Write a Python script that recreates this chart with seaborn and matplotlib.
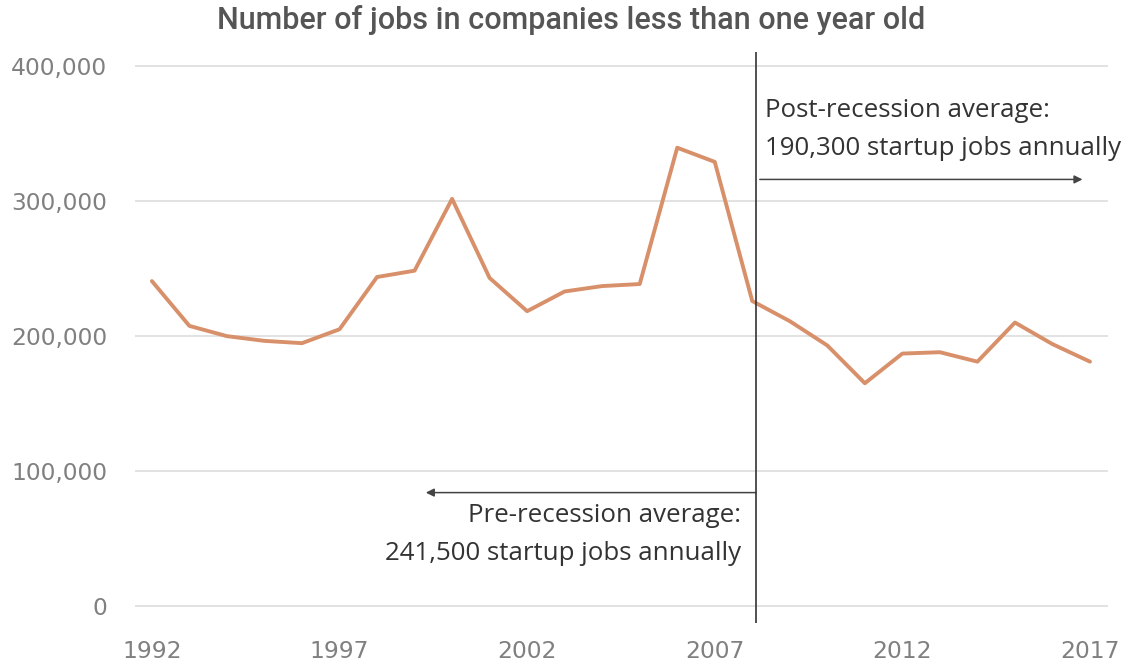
import matplotlib
matplotlib.use("Agg")
import matplotlib.pyplot as plt
import seaborn as sns
import pandas as pd

# Jobs in companies less than one year old, by year
years = list(range(1992, 2018))
jobs = [240700, 207500, 199900, 196400, 194700, 205000, 243700, 248400,
        301600, 243000, 218400, 233000, 237000, 238500, 339500, 329000,
        225900, 211000, 193000, 165000, 187000, 188000, 181000, 210000,
        194000, 181000]

y_ticks = [0, 100000, 200000, 300000, 400000]
y_tick_labels = ["0", "100,000", "200,000", "300,000", "400,000"]
x_ticks = [1992, 1997, 2002, 2007, 2012, 2017]
recession_year = 2008.1

title = "Number of jobs in companies less than one year old"
post_text = "Post-recession average:\n190,300 startup jobs annually"
pre_text = "Pre-recession average:\n241,500 startup jobs annually"

df = pd.DataFrame({"year": years, "jobs": jobs})

sns.set_style("white")
plt.rcParams["font.family"] = ["Open Sans", "DejaVu Sans"]

W, H = 1128, 665
fig = plt.figure(figsize=(W / 100, H / 100), dpi=100)
ax = fig.add_axes([135 / W, 1 - 623 / H, (1108 - 135) / W, (623 - 52) / H])

for t in y_ticks:
    ax.axhline(t, color="#dddddd", lw=1.2, zorder=0)

sns.lineplot(data=df, x="year", y="jobs", ax=ax, color="#D8906A", lw=2.8, zorder=3)

ax.axvline(recession_year, color="#333333", lw=1.2, zorder=4)

ax.set_xlim(1991.55, 2017.48)
ax.set_ylim(-12600, 410400)

ax.set_yticks(y_ticks)
ax.set_yticklabels(y_tick_labels)
ax.set_xticks(x_ticks)
ax.set_xticklabels([str(x) for x in x_ticks])
ax.tick_params(axis="y", length=0, pad=20, labelsize=16.8, labelcolor="#808080")
ax.tick_params(axis="x", length=0, pad=12, labelsize=16.8, labelcolor="#808080")
for lab in ax.get_xticklabels() + ax.get_yticklabels():
    lab.set_family("DejaVu Sans")
ax.set_xlabel("")
ax.set_ylabel("")
for s in ax.spines.values():
    s.set_visible(False)

# Annotations
ax.annotate("", xy=(2016.8, 316000), xytext=(2008.2, 316000),
            arrowprops=dict(arrowstyle="-|>", color="#444444", lw=1.1,
                            mutation_scale=12, shrinkA=0, shrinkB=0))
ax.text(2008.35, 353000, post_text, ha="left", va="center", fontsize=18.6,
        color="#333333", linespacing=1.65)

ax.annotate("", xy=(1999.3, 84000), xytext=(2008.1, 84000),
            arrowprops=dict(arrowstyle="-|>", color="#444444", lw=1.1,
                            mutation_scale=12, shrinkA=0, shrinkB=0))
ax.text(2007.7, 53000, pre_text, ha="right", va="center", fontsize=18.6,
        color="#333333", linespacing=1.65)

fig.text(571 / W, 1 - 20 / H, title, ha="center", va="center", fontsize=22,
         color="#555555", family=["Roboto", "DejaVu Sans"], fontweight="medium")

fig.savefig("out.png", dpi=100)
